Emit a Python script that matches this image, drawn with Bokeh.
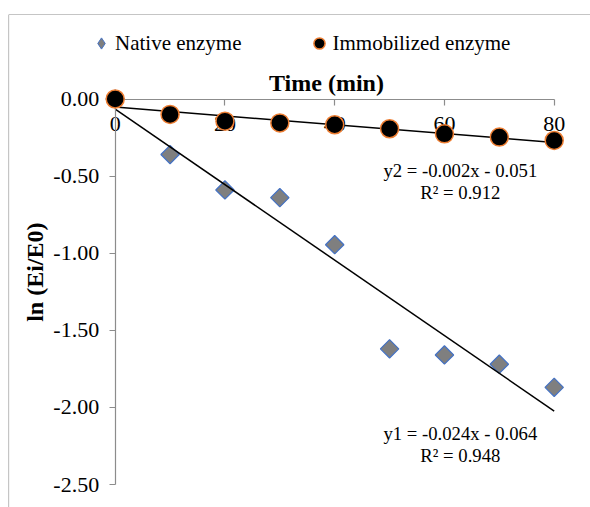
import numpy as np
from bokeh.plotting import figure
from bokeh.models import (LinearAxis, FixedTicker, NumeralTickFormatter, Range1d,
                          Label, Legend, LegendItem, Span, ColumnDataSource)
from bokeh.embed import file_html
from bokeh.resources import INLINE

# ---------------- data ----------------
time_min = [0, 10, 20, 30, 40, 50, 60, 70, 80]
native_ln = [0.0, -0.36, -0.59, -0.64, -0.945, -1.62, -1.66, -1.72, -1.87]
immob_ln = [0.0, -0.10, -0.144, -0.155, -0.167, -0.193, -0.226, -0.247, -0.269]
x_ticks = [0, 20, 40, 60, 80]
y_ticks = [-2.5, -2.0, -1.5, -1.0, -0.5, 0.0]
series_names = ["Native enzyme", "Immobilized enzyme"]
eq_native = ["y1 = -0.024x - 0.064", "R\u00b2 = 0.948"]
eq_immob = ["y2 = -0.002x - 0.051", "R\u00b2 = 0.912"]
x_title = "Time (min)"
y_title = "ln (Ei/E0)"

# ---------------- layout ----------------
W, H = 590, 507
L, T = 8, 14
x0px, xscale = 114.7, 5.4875
y0px, yscale = 98.5, 154.2
x_start = (L - x0px) / xscale
x_end = (W - x0px) / xscale
y_end = (y0px - T) / yscale
y_start = -(H - y0px) / yscale

SERIF = "Liberation Serif"
GRAY = "#8c8c8c"

p = figure(width=W, height=H, x_range=Range1d(x_start, x_end),
           y_range=Range1d(y_start, y_end), x_axis_type=None, y_axis_type=None,
           toolbar_location=None, output_backend="svg",
           min_border_left=L, min_border_top=T, min_border_right=0,
           min_border_bottom=0, outline_line_color=None,
           background_fill_color="white", border_fill_color="white")

# chart border (top and left visible)
p.add_layout(Span(location=x_start, dimension="height", line_color=GRAY, line_width=1.2))
p.add_layout(Span(location=y_end, dimension="width", line_color=GRAY, line_width=1.2))

# axes crossing at 0
xaxis = LinearAxis(fixed_location=0, bounds=(min(time_min), max(time_min)),
                   ticker=FixedTicker(ticks=x_ticks))
yaxis = LinearAxis(fixed_location=0, bounds=(min(y_ticks), max(y_ticks)),
                   ticker=FixedTicker(ticks=y_ticks),
                   formatter=NumeralTickFormatter(format="0.00"))
for ax in (xaxis, yaxis):
    ax.axis_line_color = GRAY
    ax.axis_line_width = 1.2
    ax.major_tick_line_color = GRAY
    ax.major_tick_line_width = 1.2
    ax.major_tick_out = 6
    ax.major_tick_in = 0
    ax.minor_tick_line_color = None
    ax.major_label_text_font = SERIF
    ax.major_label_text_font_size = "22px"
    ax.major_label_text_color = "black"
xaxis.major_label_standoff = 12
yaxis.major_label_standoff = 10
p.add_layout(xaxis, "below")
p.add_layout(yaxis, "left")

# data
src = ColumnDataSource(dict(t=time_min, native=native_ln, immob=immob_ln))
r_native = p.scatter("t", "native", source=src, marker="square", angle=np.pi / 4,
                     size=13, fill_color="#7f7f7f", line_color="#4472c4", line_width=1.2)

# trendlines (least squares)
xs = [min(time_min), max(time_min)]
for ys in (native_ln, immob_ln):
    k, b = np.polyfit(time_min, ys, 1)
    p.line(xs, [k * x + b for x in xs], line_color="black", line_width=1.5)

r_immob = p.scatter("t", "immob", source=src, marker="circle", size=18,
                    fill_color="black", line_color="#ed7d31", line_width=1.5,
                    level="overlay")

# legend proxy for the diamond shape (not drawn in the plot)
r_leg = p.scatter("t", "native", source=src, marker="diamond", size=14,
                  fill_color="#7f7f7f", line_color="#4472c4", line_width=1,
                  visible=False)

legend = Legend(items=[LegendItem(label=series_names[0], renderers=[r_leg]),
                       LegendItem(label=series_names[1], renderers=[r_immob])],
                orientation="horizontal", location=(79, 450),
                glyph_width=28, glyph_height=28, label_standoff=0, spacing=63,
                padding=0, margin=0, border_line_color=None,
                background_fill_alpha=0, label_text_font=SERIF,
                label_text_font_size="21px", label_text_color="black")
p.add_layout(legend, "center")

# titles
p.add_layout(Label(x=38.5, y=0.107, text=x_title, text_font=SERIF,
                   text_font_size="24px", text_font_style="bold", text_color="black",
                   text_align="center", text_baseline="middle"))
p.add_layout(Label(x=-14.7, y=-1.123, text=y_title, text_font=SERIF,
                   text_font_size="24px", text_font_style="bold", text_color="black",
                   angle=np.pi / 2, text_align="center", text_baseline="middle"))

# equations
for txt, yy in zip(eq_immob + eq_native, [-0.4637, -0.6044, -2.1693, -2.3119]):
    p.add_layout(Label(x=62.9, y=yy, text=txt, text_font=SERIF, text_color="black",
                       text_font_size="18.7px", text_align="center",
                       text_baseline="middle"))

open("out.html", "w").write(file_html(p, INLINE))
